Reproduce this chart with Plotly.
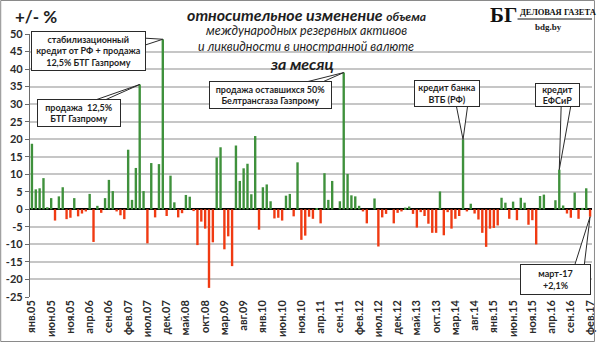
import plotly.graph_objects as go

# Monthly relative change of reserve assets, %, янв.05 .. фев.17
VALUES = [
    18.7, 5.7, 6.0, 8.9, 0.6, 3.2, -3.2, 3.7, 6.3, -2.8, -2.4, 3.2,
    -2.0, -1.2, -0.6, 4.4, -9.3, 1.0, -1.0, 3.2, 8.4, 5.2, -0.6, -1.7,
    -2.8, 17.0, 2.7, 11.8, 35.6, 5.2, -9.7, 13.2, -2.3, 12.9, 48.5, -1.9,
    9.6, 2.0, -2.3, -1.1, 4.1, 3.6, -0.5, -10.2, -3.5, -5.5, -22.4, -9.4,
    14.8, 17.7, -11.4, -7.7, -16.2, 18.2, 8.1, 11.7, 13.0, 4.3, 20.9, -5.8,
    6.3, 7.1, 2.3, -2.6, -2.4, -3.2, 3.9, 4.4, -2.0, 13.4, -8.7, -7.5,
    -2.1, -2.7, 0.3, -4.0, 10.3, 2.7, 8.1, 0.0, 2.3, 39.0, 10.1, 4.0,
    3.7, 1.0, -0.6, -4.0, 0.0, 3.1, -10.6, -2.3, -1.3, 0.0, -4.0, -1.0,
    -0.6, 0.5, 0.8, -1.3, -5.2, -0.8, -1.9, -4.1, -6.7, -6.7, 5.1, -7.4,
    -0.8, -5.5, -2.7, -1.9, 19.9, -0.6, 1.6, -1.2, -2.9, -6.7, -10.7, -5.5,
    -5.3, -4.6, 3.3, 1.9, -2.7, 2.2, -3.1, 3.3, 1.9, -4.4, -3.1, -10.0,
    3.8, 4.2, 0.0, 0.0, 2.6, 11.3, 1.1, -1.2, -2.4, 4.8, -2.7, 0.4,
    6.0, -2.1,
]

# Labels shown every 5th month
TICK_LABELS = [
    "янв.05", "июн.05", "ноя.05", "апр.06", "сен.06", "фев.07", "июл.07",
    "дек.07", "май.08", "окт.08", "мар.09", "авг.09", "янв.10", "июн.10",
    "ноя.10", "апр.11", "сен.11", "фев.12", "июл.12", "дек.12", "май.13",
    "окт.13", "мар.14", "авг.14", "янв.15", "июн.15", "ноя.15", "апр.16",
    "сен.16", "фев.17",
]
TICK_STEP = 5

Y_TICKS = [50, 45, 40, 35, 30, 25, 20, 15, 10, 5, 0, -5, -10, -15, -20, -25]

# Callout texts and the month index each one points at
CALLOUT_TEXTS = [
    "стабилизационный<br>кредит от РФ + продажа<br>12,5% БТГ Газпрому",
    "продажа  12,5%<br>БТГ Газпрому",
    "продажа оставшихся 50%<br>Белтрансгаза Газпрому",
    "кредит банка<br>ВТБ (РФ)",
    "кредит<br>ЕФСиР",
    "март-17<br>+2,1%",
]
CALLOUT_BARS = [34, 28, 81, 112, 137, 145]

GREEN = "#3f913c"
RED = "#f03a12"
FONT = "Lato, Carlito, 'Open Sans', sans-serif"

W, H = 600, 343
ML, MR, MT, MB = 30, 4, 34, 46
PW, PH = W - ML - MR, H - MT - MB
XMIN, XMAX = -0.5, len(VALUES) - 0.5
YMIN, YMAX = -25, 50


def data_to_px(x, y):
    return (ML + (x - XMIN) / (XMAX - XMIN) * PW,
            MT + (YMAX - y) / (YMAX - YMIN) * PH)


def px_to_paper(px, py):
    return (px - ML) / PW, (H - MB - py) / PH


def fmt(px, py):
    a, b = px_to_paper(px, py)
    return f"{a:.5f},{b:.5f}"


# Box geometry in pixels: (x0, x1, y0, y1, pointer side, pointer base a, b)
BOXES = [
    (31, 146, 31, 71, "right", 38, 46),
    (37, 121, 99, 127, "top", 90, 101),
    (211, 334, 81, 109, "top", 300, 320),
    (417, 483, 80, 107, "bottom", 459, 471),
    (539, 584, 83, 107, "bottom", 565, 575),
    (524, 595, 264, 295, "top", 578, 588),
]

x_idx = list(range(len(VALUES)))
colors = [GREEN if v >= 0 else RED for v in VALUES]

fig = go.Figure()
fig.add_trace(go.Bar(x=x_idx, y=VALUES, marker=dict(color=colors, line=dict(width=0)),
                     hoverinfo="skip"))

shapes = []
annotations = []

# white backing behind the title block (hides grid lines there)
shapes.append(dict(type="path", xref="paper", yref="paper", layer="between",
                   path=f"M{fmt(183, 0)} L{fmt(437, 0)} L{fmt(437, 71)} L{fmt(183, 71)} Z",
                   fillcolor="white", line=dict(width=0)))

for text, bar, box in zip(CALLOUT_TEXTS, CALLOUT_BARS, BOXES):
    x0, x1, y0, y1, side, b0, b1 = box
    tip = data_to_px(bar, VALUES[bar])
    # pointer wedge: its base sits just inside the box so the box covers it
    if side == "right":
        base = [(x1 - 3, b0), (x1 - 3, b1)]
    elif side == "top":
        base = [(b0, y0 + 3), (b1, y0 + 3)]
    else:
        base = [(b0, y1 - 3), (b1, y1 - 3)]
    shapes.append(dict(type="path", xref="paper", yref="paper", layer="above",
                       path=f"M{fmt(*base[0])} L{fmt(*tip)} L{fmt(*base[1])} Z",
                       fillcolor="white", line=dict(color="#2a2a2a", width=1)))
    cx, cy = px_to_paper((x0 + x1) / 2, (y0 + y1) / 2)
    annotations.append(dict(x=cx, y=cy, xref="paper", yref="paper", text=f"<b>{text}</b>",
                            showarrow=False, xanchor="center", yanchor="middle",
                            width=x1 - x0 - 2, height=y1 - y0 - 2, align="center",
                            valign="middle", bgcolor="white", bordercolor="#2a2a2a",
                            borderwidth=1, borderpad=0,
                            font=dict(family=FONT, size=9, color="#1e1e1e")))


def label(px, py, text, size, family=FONT, color="#1e1e1e", xanchor="center"):
    x, y = px_to_paper(px, py)
    annotations.append(dict(x=x, y=y, xref="paper", yref="paper", text=text,
                            showarrow=False, xanchor=xanchor, yanchor="middle",
                            font=dict(family=family, size=size, color=color)))


label(13, 16, "<b>+/- %</b>", 17, xanchor="left")
label(308, 14, "<b><i>относительное изменение <span style='font-size:12px'>объема</span></i></b>", 16)
label(308, 30, "<i>международных резервных активов</i>", 12.5)
label(308, 47, "<i>и ликвидности в иностранной валюте</i>", 12.5)
label(304, 64, "<b><i>за месяц</i></b>", 16)

# masthead
SERIF = "'Liberation Serif', 'DejaVu Serif', serif"
label(507, 15, "<b>БГ</b>", 21, family=SERIF, color="#111")
label(521, 12, "<b>ДЕЛОВАЯ ГАЗЕТА</b>", 8.5, family=SERIF, color="#111", xanchor="left")
label(552, 27, "<b>bdg.by</b>", 9, family=SERIF, color="#222")
shapes.append(dict(type="line", xref="paper", yref="paper",
                   x0=px_to_paper(521, 19)[0], x1=px_to_paper(596, 19)[0],
                   y0=px_to_paper(521, 19)[1], y1=px_to_paper(596, 19)[1],
                   line=dict(color="#111", width=1)))

# outer frame
shapes.append(dict(type="rect", xref="paper", yref="paper", layer="above",
                   x0=px_to_paper(0.5, 0.5)[0], y0=px_to_paper(0.5, 0.5)[1],
                   x1=px_to_paper(598.5, 341.5)[0], y1=px_to_paper(598.5, 341.5)[1],
                   line=dict(color="#8a8a8a", width=1)))

fig.update_layout(
    width=W, height=H,
    margin=dict(l=ML, r=MR, t=MT, b=MB, pad=0),
    paper_bgcolor="white", plot_bgcolor="white",
    bargap=0.38, showlegend=False,
    shapes=shapes, annotations=annotations,
    xaxis=dict(range=[XMIN, XMAX], tickmode="array",
               tickvals=list(range(0, len(VALUES), TICK_STEP)),
               ticktext=[f"<b>{t}</b>" for t in TICK_LABELS],
               tickangle=-90, ticks="", showgrid=False, zeroline=False,
               showline=False, tickfont=dict(family=FONT, size=11, color="#2a2a2a")),
    yaxis=dict(range=[YMIN, YMAX], tickmode="array", tickvals=Y_TICKS,
               ticktext=[f"<b>{t}</b>" for t in Y_TICKS],
               showgrid=True, gridcolor="#c6c6c6", gridwidth=1.5,
               zeroline=True, zerolinecolor="#000000", zerolinewidth=1.5,
               showline=True, linecolor="#6a6a6a", linewidth=1.2,
               ticks="outside", ticklen=4, tickcolor="#6a6a6a",
               tickfont=dict(family=FONT, size=11, color="#2a2a2a")),
)

fig.write_html("out.html")
